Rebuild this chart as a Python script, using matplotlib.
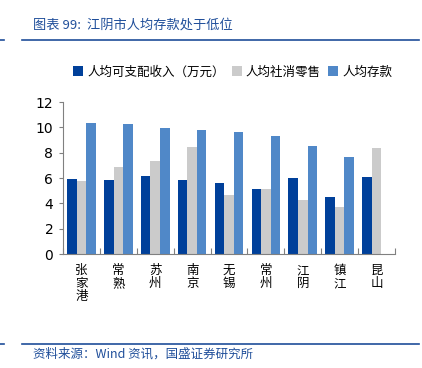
import matplotlib.pyplot as plt
import numpy as np

plt.rcParams['font.family'] = ['DejaVu Sans', 'Noto Sans CJK SC']

cities = ['张家港', '常熟', '苏州', '南京', '无锡', '常州', '江阴', '镇江', '昆山']
income = [5.91, 5.88, 6.15, 5.88, 5.62, 5.10, 6.02, 4.52, 6.09]
retail = [5.75, 6.86, 7.33, 8.46, 4.62, 5.10, 4.25, 3.68, 8.40]
deposit = [10.35, 10.30, 9.93, 9.82, 9.64, 9.30, 8.51, 7.67, np.nan]
series_names = ['人均可支配收入（万元）', '人均社消零售', '人均存款']

c_dark = '#00409A'
c_gray = '#CBCBCB'
c_light = '#5088C8'
c_text = '#1F4E9A'

fig = plt.figure(figsize=(4.22, 3.68), dpi=100)
ax = fig.add_axes([63/422, 1 - 254/368, 332/422, 152/368])

x = np.arange(len(cities))
w = 0.26
ax.bar(x - w, income, w, color=c_dark, label=series_names[0])
ax.bar(x, retail, w, color=c_gray, label=series_names[1])
ax.bar(x + w, deposit, w, color=c_light, label=series_names[2])

ax.set_xlim(-0.5, len(cities) - 0.5)
ax.set_ylim(0, 12)
ax.set_yticks(range(0, 13, 2))
ax.tick_params(axis='y', labelsize=10, length=3, color='#808080', pad=4)
ax.set_xticks(np.arange(len(cities) + 1) - 0.5)
ax.set_xticklabels([])
ax.tick_params(axis='x', direction='in', length=4, color='#808080')
for i, c in enumerate(cities):
    ax.text(i, -0.8, '\n'.join(c), ha='center', va='top', fontsize=9,
            family=['Noto Sans CJK SC'], linespacing=1.0)

for s in ['top', 'right']:
    ax.spines[s].set_visible(False)
ax.spines['left'].set_color('#808080')
ax.spines['bottom'].set_color('#808080')

handles, labels = ax.get_legend_handles_labels()
fig.legend(handles, labels, loc='center left', bbox_to_anchor=(62/422, 1 - 72/368),
           ncol=3, frameon=False, fontsize=9, handlelength=0.8, handleheight=0.8,
           handletextpad=0.3, columnspacing=0.6, prop={'family': ['Noto Sans CJK SC'], 'size': 9})

fig.text(33/422, 1 - 25/368, '图表 99:  江阴市人均存款处于低位', color=c_text, fontsize=9.5,
         style='italic', va='center', family=['Noto Sans CJK SC', 'DejaVu Sans'])
fig.add_artist(plt.Line2D([0, 4/422], [1 - 40/368] * 2, color=c_text, lw=1.2))
fig.add_artist(plt.Line2D([22/422, 419/422], [1 - 40/368] * 2, color=c_text, lw=1.2))
fig.add_artist(plt.Line2D([0, 4/422], [1 - 344/368] * 2, color=c_text, lw=1.2))
fig.add_artist(plt.Line2D([22/422, 419/422], [1 - 344/368] * 2, color=c_text, lw=1.2))
fig.text(33/422, 1 - 354/368, '资料来源：Wind 资讯，国盛证券研究所', color=c_text, fontsize=9,
         style='italic', va='center', family=['Noto Sans CJK SC', 'DejaVu Sans'])

fig.savefig('out.png', dpi=100)
